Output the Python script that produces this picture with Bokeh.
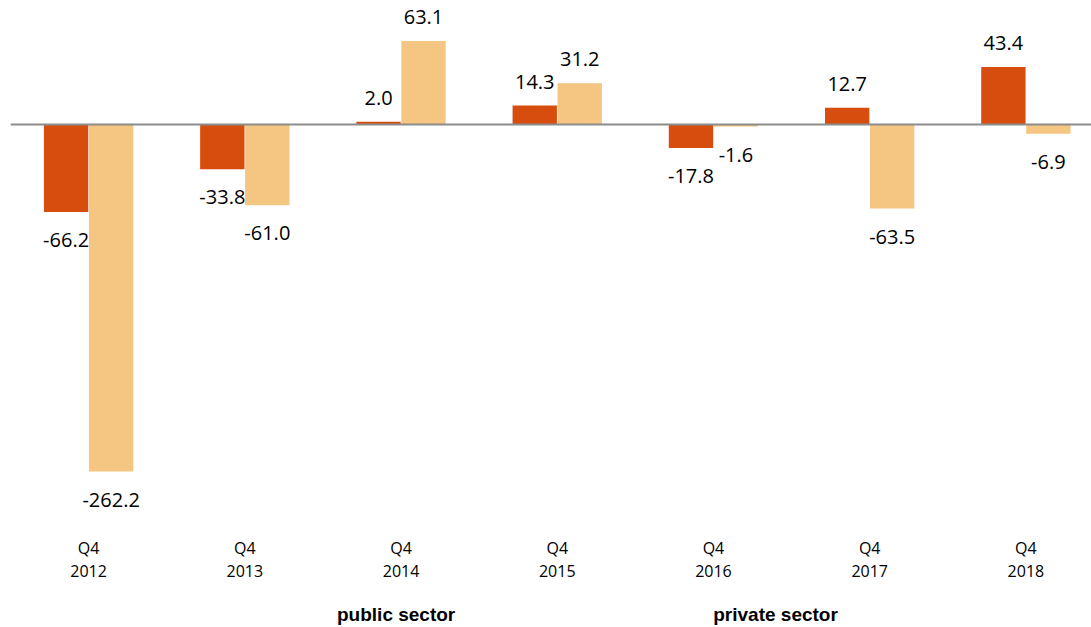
from bokeh.plotting import figure
from bokeh.layouts import column
from bokeh.models import ColumnDataSource, Span, Legend, LegendItem, Range1d, FixedTicker
from bokeh.core.properties import value
from bokeh.embed import file_html
from bokeh.resources import INLINE

categories = ["Q4\n2012", "Q4\n2013", "Q4\n2014", "Q4\n2015", "Q4\n2016", "Q4\n2017", "Q4\n2018"]
public_sector = [-66.2, -33.8, 2.0, 14.3, -17.8, 12.7, 43.4]
private_sector = [-262.2, -61.0, 63.1, 31.2, -1.6, -63.5, -6.9]
series_names = ["public sector", "private sector"]

PUB_COLOR = "#D64D0E"
PRIV_COLOR = "#F5C582"
OFF = 0.144
BW = 0.284

x = list(range(len(categories)))

def src(vals, off):
    return ColumnDataSource(dict(
        x=[i + off for i in x],
        top=vals,
        lab=["%.1f" % v for v in vals],
        yoff=[-24 if v >= 0 else 28 for v in vals],
    ))

s_pub = src(public_sector, -OFF)
s_priv = src(private_sector, OFF)

p = figure(frame_width=1081, frame_height=512, output_backend="svg", toolbar_location=None,
           x_range=Range1d(-0.5, 6.42), y_range=Range1d(-299.2, 87.65),
           min_border_left=10, min_border_right=0, min_border_top=8, min_border_bottom=70)
p.outline_line_color = None
p.xgrid.visible = False
p.ygrid.visible = False
p.yaxis.visible = False
p.background_fill_color = "white"
p.border_fill_color = "white"

p.vbar(x="x", top="top", bottom=0, width=BW, source=s_pub, fill_color=PUB_COLOR, line_color=None)
p.vbar(x="x", top="top", bottom=0, width=BW, source=s_priv, fill_color=PRIV_COLOR, line_color=None)

p.add_layout(Span(location=0, dimension="width", line_color="#8C8C8C", line_width=2))

for s in (s_pub, s_priv):
    p.text(x="x", y="top", text="lab", y_offset="yoff", source=s, text_align="center",
           text_baseline="middle", text_font=value("Open Sans"), text_font_size="20px",
           text_color="#000000")

ax = p.xaxis[0]
ax.ticker = FixedTicker(ticks=x)
ax.major_label_overrides = {i: c for i, c in zip(x, categories)}
ax.axis_line_color = None
ax.major_tick_line_color = None
ax.minor_tick_line_color = None
ax.major_tick_out = 0
ax.major_tick_in = 0
ax.major_label_standoff = 16
ax.major_label_text_font = "Open Sans"
ax.major_label_text_font_size = "16px"
ax.major_label_text_color = "#000000"
ax.major_label_text_line_height = 1.05

# legend strip below the chart (legend-only renderers with no data)
p2 = figure(width=1091, height=36, output_backend="svg", toolbar_location=None,
            x_range=Range1d(0, 1), y_range=Range1d(0, 1),
            min_border_left=0, min_border_right=0, min_border_top=0, min_border_bottom=0)
p2.axis.visible = False
p2.xgrid.visible = False
p2.ygrid.visible = False
p2.outline_line_color = None
p2.border_fill_color = "white"
empty_pub = ColumnDataSource(dict(x=[], top=[]))
empty_priv = ColumnDataSource(dict(x=[], top=[]))
lr_pub = p2.vbar(x="x", top="top", bottom=0, width=BW, source=empty_pub, fill_color=PUB_COLOR, line_color=None)
lr_priv = p2.vbar(x="x", top="top", bottom=0, width=BW, source=empty_priv, fill_color=PRIV_COLOR, line_color=None)

legend = Legend(items=[LegendItem(label=series_names[0], renderers=[lr_pub]),
                       LegendItem(label=series_names[1], renderers=[lr_priv])],
                orientation="horizontal", location=(311, 0),
                glyph_width=12, glyph_height=12, label_standoff=4, spacing=242,
                padding=2, margin=0, border_line_color=None, background_fill_alpha=0,
                label_text_font="Liberation Sans", label_text_font_style="bold",
                label_text_font_size="19px", label_text_color="#000000")
p2.add_layout(legend, "center")

open("out.html", "w").write(file_html(column(p, p2, spacing=0), INLINE))
